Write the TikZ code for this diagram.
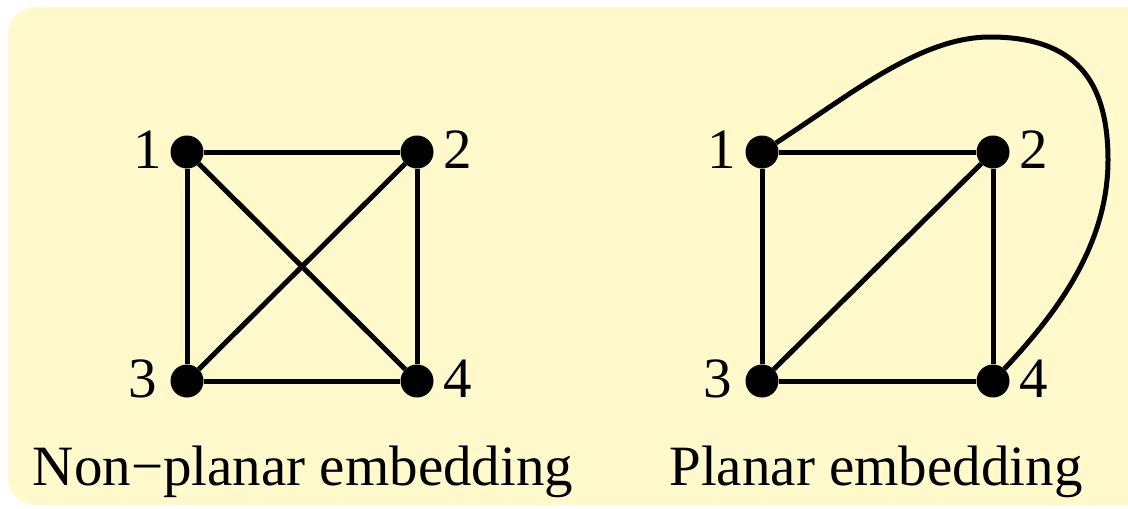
\documentclass[tikz,border=0pt]{standalone}
\usepackage{fontspec}
\setmainfont{Liberation Serif}
\definecolor{bgyellow}{HTML}{FFF9CC}
\begin{document}
\begin{tikzpicture}[x=1pt,y=-1pt,
  vert/.style={circle,fill=black,minimum size=33pt,inner sep=0pt},
  lbl/.style={anchor=base,inner sep=0pt,font=\fontsize{57}{60}\selectfont},
  edge/.style={line width=5pt,draw=black},
  caption/.style={anchor=base,inner sep=0pt,font=\fontsize{57}{60}\selectfont}]
\useasboundingbox (0,0) rectangle (1128,509);
\fill[bgyellow,rounded corners=27pt] (8,7) rectangle (1160,505);
% Left graph
\node[vert] (a1) at (187,152) {};
\node[vert] (a2) at (417,152) {};
\node[vert] (a3) at (187,381) {};
\node[vert] (a4) at (417,381) {};
\draw[edge] (a1) -- (a2);
\draw[edge] (a1) -- (a3);
\draw[edge] (a3) -- (a4);
\draw[edge] (a2) -- (a4);
\draw[edge] (a1) -- (a4);
\draw[edge] (a2) -- (a3);
\node[lbl] (la1) at (148,168) {1};
\node[lbl] (la2) at (458,168) {2};
\node[lbl] (la3) at (143,397) {3};
\node[lbl] (la4) at (458,397) {4};
\node[caption] (ca) at (303,485) {Non\char"2212 planar embedding};
% Right graph
\node[vert] (b1) at (762,152) {};
\node[vert] (b2) at (993,152) {};
\node[vert] (b3) at (762,381) {};
\node[vert] (b4) at (993,381) {};
\draw[edge] (b1) -- (b2);
\draw[edge] (b1) -- (b3);
\draw[edge] (b3) -- (b4);
\draw[edge] (b2) -- (b4);
\draw[edge] (b2) -- (b3);
\coordinate (top) at (990,37);
\coordinate (rgt) at (1108,160);
\draw[edge] (b1) .. controls (850,95) and (920,37) .. (top)
  .. controls (1075,37) and (1108,80) .. (rgt)
  .. controls (1108,250) and (1050,320) .. (b4);
\node[lbl] (lb1) at (722,168) {1};
\node[lbl] (lb2) at (1034,168) {2};
\node[lbl] (lb3) at (718,397) {3};
\node[lbl] (lb4) at (1034,397) {4};
\node[caption] (cb) at (876,485) {Planar embedding};
\end{tikzpicture}
\end{document}
